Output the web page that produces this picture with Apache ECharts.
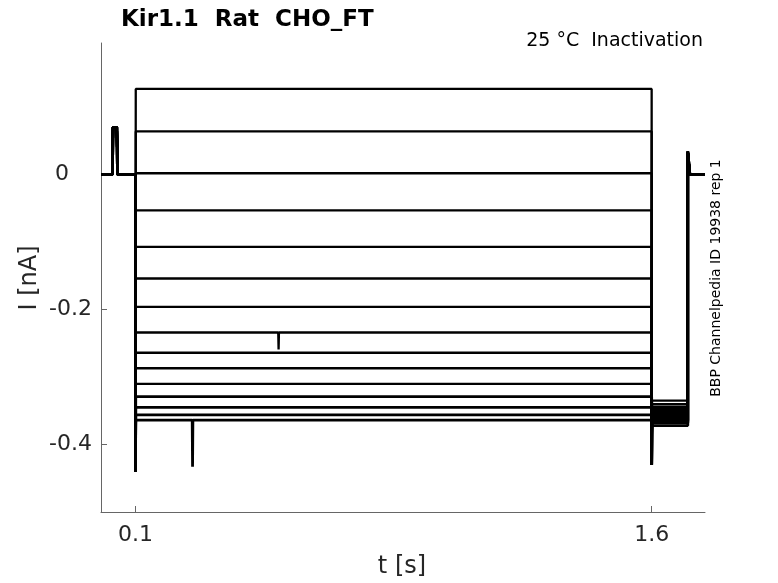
<!DOCTYPE html>
<html>
<head>
<meta charset="utf-8">
<script src="https://cdn.jsdelivr.net/npm/echarts@6/dist/echarts.min.js"></script>
<style>
    html, body { margin: 0; padding: 0; background: #fff; }
    #chart { width: 778px; height: 583px; }
</style>
</head>
<body>
<div id="chart"></div>
<script>
    // step levels (nA), top to bottom
    var stepLevels = [0.127, 0.064, 0.002, -0.053, -0.107, -0.154, -0.196, -0.234,
        -0.264, -0.287, -0.310, -0.329, -0.345, -0.356, -0.364];
    // level after the step, one per sweep
    var tailLevels = [-0.335, -0.340, -0.344, -0.347, -0.350, -0.352, -0.354, -0.356,
        -0.358, -0.360, -0.362, -0.364, -0.366, -0.368, -0.372];
    var holdLevel = 0;
    // protocol times (s)
    var stepOn = 0.1, stepOff = 1.6, tailEnd = 1.705, sweepEnd = 1.755;
    // small artefact before the step
    var preBlip = [0.033, 0.048], preBlipLevel = 0.07;
    // transients at the step edges
    var onTransient = -0.44, offTransient = -0.43, endTransient = 0.034;
    // odd spikes: [sweep index, time, value]
    var spikes = [[7, 0.516, -0.259], [14, 0.266, -0.433]];

    var xTicks = [0.1, 1.6];
    var yTicks = [-0.4, -0.2, 0];

    var font = 'DejaVu Sans';
    var textColor = '#262626';

    var buildSweep = function (i) {
        var lvl = stepLevels[i];
        var pts = [
            [0, holdLevel],
            [preBlip[0], holdLevel], [preBlip[0] + 0.002, preBlipLevel],
            [preBlip[1] - 0.002, preBlipLevel], [preBlip[1], holdLevel],
            [stepOn, holdLevel], [stepOn, onTransient], [stepOn + 0.001, lvl]
        ];
        spikes.forEach(function (s) {
            if (s[0] === i) {
                pts.push([s[1] - 0.001, lvl], [s[1], s[2]], [s[1] + 0.001, lvl]);
            }
        });
        pts.push([stepOff, lvl], [stepOff, offTransient], [stepOff + 0.001, tailLevels[i]],
            [tailEnd, tailLevels[i]], [tailEnd, endTransient], [tailEnd + 0.006, holdLevel],
            [sweepEnd, holdLevel]);
        return pts;
    };

    var series = stepLevels.map(function (lvl, i) {
        return {
            type: 'line',
            data: buildSweep(i),
            showSymbol: false,
            animation: false,
            lineStyle: { color: '#000', width: i > 10 ? 2.8 : 2.3 },
            z: 2
        };
    });

    var myChart = echarts.init(document.getElementById('chart'));
    myChart.setOption({
        backgroundColor: '#fff',
        animation: false,
        title: {
            text: 'Kir1.1  Rat  CHO_FT',
            left: 116,
            top: 4,
            textStyle: { fontFamily: font, fontSize: 23, fontWeight: 'bold', color: '#000' }
        },
        grid: { left: 101, top: 43, right: 73, bottom: 71, containLabel: false },
        xAxis: {
            type: 'value',
            min: 0,
            max: sweepEnd,
            splitLine: { show: false },
            axisLine: { onZero: false, lineStyle: { color: '#666', width: 1 } },
            axisTick: { inside: true, length: 6, customValues: xTicks, lineStyle: { color: '#666' } },
            axisLabel: {
                customValues: xTicks, margin: 12,
                fontFamily: font, fontSize: 22, color: textColor,
                formatter: function (v) { return String(v); }
            }
        },
        yAxis: {
            type: 'value',
            min: -0.5,
            max: 0.195,
            splitLine: { show: false },
            axisLine: { show: true, onZero: false, lineStyle: { color: '#666', width: 1 } },
            axisTick: { show: true, inside: true, length: 6, customValues: yTicks, lineStyle: { color: '#666' } },
            axisLabel: {
                customValues: yTicks, margin: 9,
                fontFamily: font, fontSize: 22, color: textColor,
                formatter: function (v) { return v === 0 ? '{zero|0}' : String(v); },
                rich: {
                    zero: { fontFamily: font, fontSize: 22, color: textColor, padding: [0, 23, 0, 0] }
                }
            }
        },
        graphic: [
            {
                type: 'text', x: 703, y: 41,
                style: {
                    text: '25 °C  Inactivation', font: '19px "DejaVu Sans"',
                    fill: '#000', align: 'right', verticalAlign: 'middle'
                }
            },
            {
                type: 'text', x: 716, y: 278, rotation: Math.PI / 2,
                style: {
                    text: 'BBP Channelpedia ID 19938 rep 1', font: '14px "DejaVu Sans"',
                    fill: '#000', align: 'center', verticalAlign: 'middle'
                }
            },
            {
                type: 'text', x: 30, y: 278, rotation: Math.PI / 2,
                style: {
                    text: 'I [nA]', font: '24px "DejaVu Sans"',
                    fill: textColor, align: 'center', verticalAlign: 'middle'
                }
            },
            {
                type: 'text', x: 402, y: 567,
                style: {
                    text: 't [s]', font: '24px "DejaVu Sans"',
                    fill: textColor, align: 'center', verticalAlign: 'middle'
                }
            }
        ],
        series: series
    });
</script>
</body>
</html>
